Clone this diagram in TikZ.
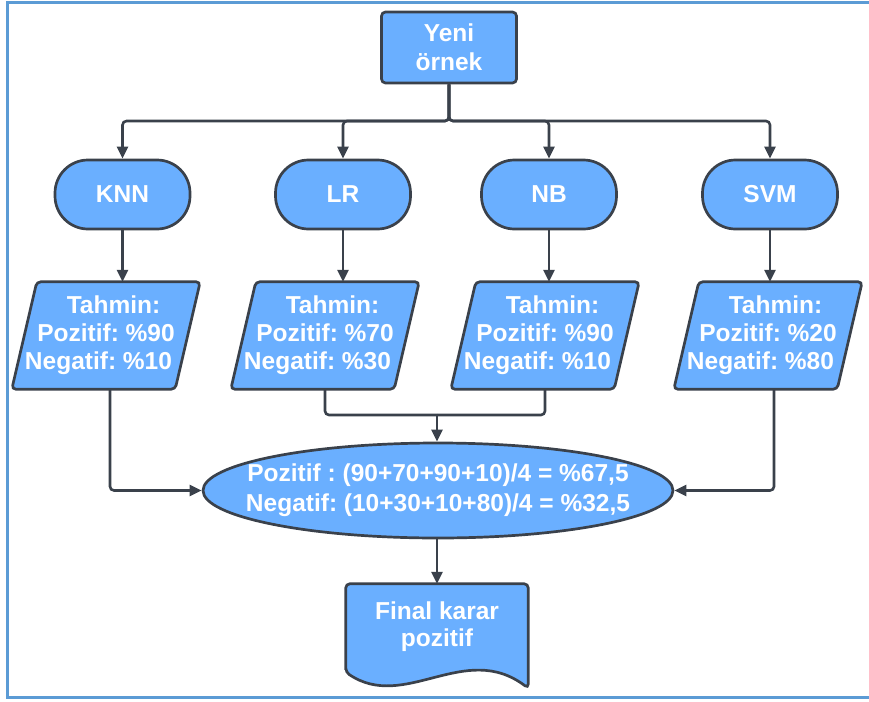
\documentclass[tikz,border=0pt]{standalone}
\usepackage{fontspec}
\setmainfont{Liberation Sans}
\usetikzlibrary{arrows.meta,shapes.geometric,calc,backgrounds}
\definecolor{boxfill}{RGB}{106,175,255}
\definecolor{ink}{RGB}{58,65,75}
\definecolor{framecol}{RGB}{91,155,213}
\frenchspacing
% three prediction lines, each following the slant of the parallelogram
\newcommand{\predlines}[2]{\hspace*{15pt}Tahmin:\\Pozitif: \%#1\\Negatif: \%#2\hspace*{15pt}}

\begin{document}
\begin{tikzpicture}[x=1pt,y=-1pt,
  every node/.style={text=white, font=\bfseries\fontsize{24.5}{28}\selectfont, align=center},
  shapebox/.style={draw=ink, fill=boxfill, line width=2.7pt},
  startbox/.style={shapebox, rectangle, rounded corners=4pt, minimum width=135pt, minimum height=71pt, inner sep=0pt, font=\bfseries\fontsize{24.5}{29}\selectfont},
  termbox/.style={shapebox, rectangle, rounded corners=33pt, minimum width=135pt, minimum height=69pt, inner sep=0pt},
  parabox/.style={rectangle, minimum width=163pt, minimum height=107pt, inner sep=0pt},
  avgbox/.style={shapebox, ellipse, minimum width=470pt, minimum height=95pt, inner sep=0pt, font=\bfseries\fontsize{24.5}{30}\selectfont},
  docbox/.style={rectangle, minimum width=182pt, minimum height=86pt, inner sep=0pt, font=\bfseries\fontsize{24.5}{27}\selectfont},
  link/.style={draw=ink, line width=2.6pt, rounded corners=4pt},
  arrow/.style={link, -{Triangle[length=12pt,width=11pt]}},
]
\useasboundingbox (0,0) rectangle (869,701);

% page frame
\draw[framecol, line width=3pt] (869,2.5) -- (7,2.5) -- (7,697.5) -- (869,697.5);

% start box
\node[startbox] (yeni) at (449,47.5) {Yeni\\örnek};

% classifiers
\node[termbox] (knn) at (122.5,194.5) {KNN};
\node[termbox] (lr)  at (343,194.5) {LR};
\node[termbox] (nb)  at (549,194.5) {NB};
\node[termbox] (svm) at (770,194.5) {SVM};

% predictions (parallelograms drawn behind)
\node[parabox] (pk) at (106,335.5) {\predlines{90}{10}};
\node[parabox] (pl) at (325,335.5) {\predlines{70}{30}};
\node[parabox] (pn) at (545,335.5) {\predlines{90}{10}};
\node[parabox] (ps) at (768,335.5) {\predlines{20}{80}};

% averaging step
\node[avgbox] (avg) at (438,490.5)
  {\makebox[0pt]{Pozitif : (90+70+90+10)/4 = \%67,5}\\\makebox[0pt]{Negatif: (10+30+10+80)/4 = \%32,5}};

% final decision (document shape drawn behind)
\node[docbox] (doc) at (437,627) {Final karar\\pozitif};

\begin{scope}[on background layer]
  \foreach \p in {pk,pl,pn,ps}
    \draw[shapebox, rounded corners=4pt] ([xshift=12.5pt]\p.north west) -- ([xshift=12.5pt]\p.north east)
      -- ([xshift=-12.5pt]\p.south east) -- ([xshift=-12.5pt]\p.south west) -- cycle;
  \draw[shapebox, rounded corners=4pt] ($(doc.south west)+(0,2)$) -- (doc.north west) -- (doc.north east)
    -- ([yshift=-18pt]doc.south east)
    .. controls ($(doc.south west)+(119,-30)$) and ($(doc.south west)+(59,42)$) .. ($(doc.south west)+(0,2)$) -- cycle;
\end{scope}

% connectors
\coordinate (bus) at (449,121);
\foreach \t in {knn,lr,nb,svm}
  \draw[arrow] (yeni.south) -- (bus) -| (\t.north);
\foreach \t/\p in {knn/pk,lr/pl,nb/pn,svm/ps}
  \draw[arrow] (\t.south) -- (\t.south |- \p.north);

\draw[arrow] ([xshift=4pt]pk.south) |- (avg.west);
\coordinate (join) at (437,415);
\draw[link] (pl.south) |- (join);
\draw[link] (pn.south) |- (join);
\draw[arrow] (join) -- (join |- avg.north);
\draw[arrow] ([xshift=6pt]ps.south) |- (avg.east);
\draw[arrow] (avg.south -| doc.north) -- (doc.north);
\end{tikzpicture}
\end{document}
